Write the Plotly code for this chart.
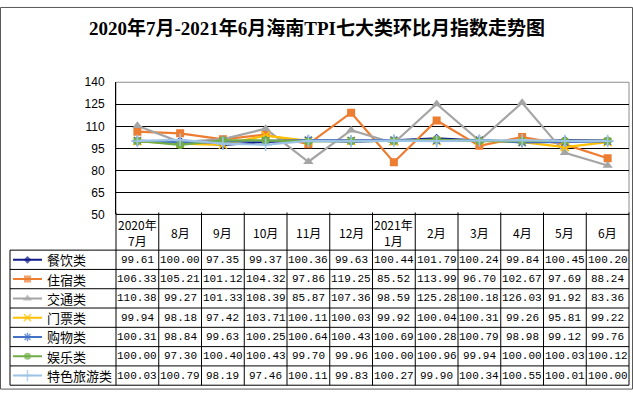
import plotly.graph_objects as go

# ---------------- data ----------------
months = ["2020年<br>7月", "8月", "9月", "10月", "11月", "12月",
          "2021年<br>1月", "2月", "3月", "4月", "5月", "6月"]
series_names = ["餐饮类", "住宿类", "交通类", "门票类", "购物类", "娱乐类", "特色旅游类"]
canyin = [99.61, 100.00, 97.35, 99.37, 100.36, 99.63, 100.44, 101.79, 100.24, 99.84, 100.45, 100.20]
zhusu = [106.33, 105.21, 101.12, 104.32, 97.86, 119.25, 85.52, 113.99, 96.70, 102.67, 97.69, 88.24]
jiaotong = [110.38, 99.27, 101.33, 108.39, 85.87, 107.36, 98.59, 125.28, 100.18, 126.03, 91.92, 83.36]
menpiao = [99.94, 98.18, 97.42, 103.71, 100.11, 100.03, 99.92, 100.04, 100.31, 99.26, 95.81, 99.22]
gouwu = [100.31, 98.84, 99.63, 100.25, 100.64, 100.43, 100.69, 100.28, 100.79, 98.98, 99.12, 99.76]
yule = [100.00, 97.30, 100.40, 100.43, 99.70, 99.96, 100.00, 100.96, 99.94, 100.00, 100.03, 100.12]
tese = [100.03, 100.79, 98.19, 97.46, 100.11, 99.83, 100.27, 99.90, 100.34, 100.55, 100.01, 100.00]
y_ticks = [50, 65, 80, 95, 110, 125, 140]
title_text = "2020年7月-2021年6月海南TPI七大类环比月指数走势图"

series_values = [canyin, zhusu, jiaotong, menpiao, gouwu, yule, tese]

# ---------------- style ----------------
colors = ["#101c8a", "#ED7D31", "#A5A5A5", "#FFC000", "#4472C4", "#70AD47", "#9DC3E6"]
symbols = ["diamond", "square", "triangle-up", "x-thin", "asterisk", "circle", "cross-thin"]
msizes = [7, 8, 9, 8, 8, 8, 9]

W, H = 633, 398
PL, PR, PT, PB = 116, 629, 78, 215     # plot area (px)
TL, HB, RH = 10, 252, 20               # table left, header bottom, row height

def fx(p):
    return p / W

def fy(p):
    return 1 - p / H

CJK = "Noto Sans CJK SC"
MONO = "Liberation Mono, " + CJK

fig = go.Figure()

def marker_for(i, size):
    sym = symbols[i]
    if sym in ("x-thin", "asterisk", "cross-thin"):
        return dict(symbol=sym, size=size, color=colors[i],
                    line=dict(color=colors[i], width=1.6))
    return dict(symbol=sym, size=size, color=colors[i], line=dict(width=0))

# main lines
for i, (name, vals) in enumerate(zip(series_names, series_values)):
    fig.add_trace(go.Scatter(
        x=months, y=vals, name=name, mode="lines+markers",
        line=dict(color=colors[i], width=2.2),
        marker=marker_for(i, msizes[i]),
        xaxis="x", yaxis="y", showlegend=False, hoverinfo="skip"))

# legend glyphs in table's first column
for i, name in enumerate(series_names):
    m = marker_for(i, [0, msizes[i] - 1, 0])
    fig.add_trace(go.Scatter(
        x=[0, 1, 2], y=[i, i, i], mode="lines+markers",
        line=dict(color=colors[i], width=2), marker=m,
        xaxis="x2", yaxis="y2", showlegend=False, hoverinfo="skip"))

shapes = []
# plot border (grey top/right)
shapes.append(dict(type="rect", xref="x domain", yref="y domain", x0=0, x1=1, y0=0, y1=1,
                   line=dict(color="#8c8c8c", width=1), layer="below"))
# table horizontal lines
shapes.append(dict(type="line", xref="paper", yref="paper", x0=fx(PL), x1=fx(PR),
                   y0=fy(PB), y1=fy(PB), line=dict(color="black", width=1)))
for r in range(len(series_names) + 1):
    yy = HB + r * RH
    shapes.append(dict(type="line", xref="paper", yref="paper", x0=fx(TL), x1=fx(PR),
                       y0=fy(yy), y1=fy(yy), line=dict(color="black", width=1)))
# table vertical lines
shapes.append(dict(type="line", xref="paper", yref="paper", x0=fx(TL), x1=fx(TL),
                   y0=fy(HB), y1=fy(HB + RH * len(series_names)), line=dict(color="black", width=1)))
n = len(months)
for k in range(n + 1):
    shapes.append(dict(type="line", xref="x domain", yref="paper", x0=k / n, x1=k / n,
                       y0=fy(PB - 2), y1=fy(HB + RH * len(series_names)),
                       line=dict(color="black", width=1)))
# outer chart border
shapes.append(dict(type="rect", xref="paper", yref="paper", x0=fx(0.5), x1=fx(W - 0.5),
                   y0=fy(H - 2), y1=fy(0.5), line=dict(color="#595959", width=1)))

annotations = []
annotations.append(dict(text="<b>" + title_text + "</b>", xref="paper", yref="paper",
                        x=0.5, y=fy(22), showarrow=False, xanchor="center", yanchor="middle",
                        font=dict(family="Liberation Serif, " + CJK, size=19, color="black")))
for c in months:
    annotations.append(dict(text=c, xref="x", yref="paper", x=c, y=fy((PB + HB) / 2),
                            showarrow=False, xanchor="center", yanchor="middle",
                            font=dict(family=CJK, size=12, color="black")))
for r, (name, vals) in enumerate(zip(series_names, series_values)):
    yc = fy(HB + RH * r + RH / 2)
    annotations.append(dict(text=name, xref="paper", yref="paper", x=fx(45), y=yc,
                            showarrow=False, xanchor="left", yanchor="middle",
                            font=dict(family=CJK, size=13, color="black")))
    for c, v in zip(months, vals):
        annotations.append(dict(text=f"{v:.2f}", xref="x", yref="paper", x=c, y=yc,
                                showarrow=False, xanchor="center", yanchor="middle",
                                font=dict(family=MONO, size=11, color="black")))

fig.update_layout(
    width=W, height=H,
    margin=dict(l=0, r=0, t=0, b=0),
    paper_bgcolor="white", plot_bgcolor="white",
    xaxis=dict(domain=[fx(PL), fx(PR)], type="category", range=[-0.5, n - 0.5],
               showticklabels=False, showgrid=False, zeroline=False, showline=False,
               ticks="", anchor="y"),
    yaxis=dict(domain=[fy(PB), fy(PT)], range=[50, 140], tickvals=y_ticks,
               showgrid=True, gridcolor="black", gridwidth=1, zeroline=False,
               showline=True, linecolor="black", linewidth=1, ticks="",
               ticklabelstandoff=8,
               tickfont=dict(family="Liberation Sans", size=12, color="black"), anchor="x"),
    xaxis2=dict(domain=[fx(13), fx(42)], range=[0, 2], visible=False, anchor="y2"),
    yaxis2=dict(domain=[fy(HB + RH * len(series_names)), fy(HB)],
                range=[len(series_names) - 0.5, -0.5], visible=False, anchor="x2"),
    shapes=shapes,
    annotations=annotations,
)

fig.write_html("out.html", config={"displayModeBar": False},
               post_script="document.body.style.margin='0';document.body.style.overflow='hidden';")
